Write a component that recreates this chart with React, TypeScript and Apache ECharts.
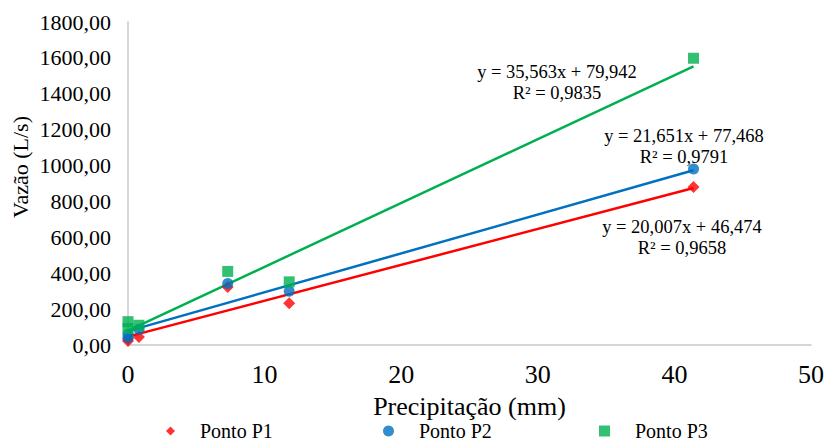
import React, { useEffect, useRef } from "react";
import * as echarts from "echarts";

const p1Data: [number, number][] = [[0, 22], [0, 35], [0.8, 45], [7.3, 323], [11.8, 232], [41.4, 881]];
const p2Data: [number, number][] = [[0, 40], [0, 60], [0.8, 88], [7.3, 343], [11.8, 300], [41.4, 981]];
const p3Data: [number, number][] = [[0, 130], [0, 92], [0.8, 110], [7.3, 410], [11.8, 352], [41.4, 1598]];

const seriesNames = ["Ponto P1", "Ponto P2", "Ponto P3"];
const colors = ["#FF0000", "#0070C0", "#00B050"];
const symbols = ["diamond", "circle", "rect"];
const slopes = [20.007, 21.651, 35.563];
const intercepts = [46.474, 77.468, 79.942];
const r2 = ["0,9658", "0,9791", "0,9835"];
const eqLabels = ["y = 20,007x + 46,474", "y = 21,651x + 77,468", "y = 35,563x + 79,942"];
const trendRange = [0, 41.4];

const FONT = "Times New Roman";

export default function App() {
  const ref = useRef<HTMLDivElement>(null);
  useEffect(() => {
    if (!ref.current) return;
    document.body.style.margin = "0";
    const chart = echarts.init(ref.current, undefined, { renderer: "svg" });
    const datas = [p1Data, p2Data, p3Data];
    const scatter = datas.map((d, i) => ({
      name: seriesNames[i],
      type: "scatter",
      data: d,
      symbol: symbols[i],
      symbolSize: i === 0 ? 12 : 11,
      itemStyle: { color: colors[i] },
      z: 3,
    }));
    const trends = slopes.map((s, i) => ({
      name: "trend" + i,
      type: "line",
      data: trendRange.map((x) => [x, s * x + intercepts[i]]),
      symbol: "none",
      lineStyle: { color: colors[i], width: 2.5 },
      z: 2,
      silent: true,
    }));
    const eqPos = [
      [682, 227],
      [684, 136],
      [557, 72],
    ];
    const graphics: any[] = [];
    eqPos.forEach((p, i) => {
      graphics.push({
        type: "text",
        x: p[0],
        y: p[1],
        style: { text: eqLabels[i], fontFamily: FONT, fontSize: 18.5, fill: "#000", align: "center", verticalAlign: "middle" },
      });
      graphics.push({
        type: "text",
        x: p[0],
        y: p[1] + 21,
        style: { text: "R² = " + r2[i], fontFamily: FONT, fontSize: 18.5, fill: "#000", align: "center", verticalAlign: "middle" },
      });
    });
    graphics.push({
      type: "text",
      x: 20,
      y: 167,
      rotation: Math.PI / 2,
      style: { text: "Vazão (L/s)", fontFamily: FONT, fontSize: 22, fill: "#000", align: "center", verticalAlign: "middle" },
    });
    const legendLefts = [166, 383, 599];
    chart.setOption({
      animation: false,
      textStyle: { fontFamily: FONT },
      grid: { left: 128, right: 11, top: 22, bottom: 96 },
      legend: seriesNames.map((n, i) => ({
        data: [{ name: n, icon: symbols[i] }],
        left: legendLefts[i],
        top: 421,
        padding: 0,
        itemWidth: i === 0 ? 9 : 11,
        itemHeight: i === 0 ? 9 : 11,
        itemGap: 10,
        textStyle: { fontFamily: FONT, fontSize: 20, color: "#000", padding: [0, 0, 0, 20] },
      })),
      xAxis: {
        type: "value",
        min: 0,
        max: 50,
        interval: 10,
        name: "Precipitação (mm)",
        nameLocation: "middle",
        nameGap: 48,
        nameTextStyle: { fontFamily: FONT, fontSize: 26, color: "#000" },
        axisLine: { show: true, lineStyle: { color: "#C8C8C8", width: 1.5 } },
        axisTick: { show: false },
        splitLine: { show: false },
        axisLabel: { fontFamily: FONT, fontSize: 26, color: "#000", margin: 16 },
      },
      yAxis: {
        type: "value",
        min: 0,
        max: 1800,
        interval: 200,
        axisLine: { show: true, lineStyle: { color: "#C8C8C8", width: 1.5 } },
        axisTick: { show: false },
        splitLine: { show: false },
        axisLabel: {
          fontFamily: FONT,
          fontSize: 22,
          color: "#000",
          margin: 17,
          formatter: (v: number) => v.toFixed(2).replace(".", ","),
        },
      },
      graphic: graphics,
      series: [...trends, ...scatter],
    });
    return () => chart.dispose();
  }, []);
  return <div ref={ref} style={{ width: 827, height: 441 }} />;
}
